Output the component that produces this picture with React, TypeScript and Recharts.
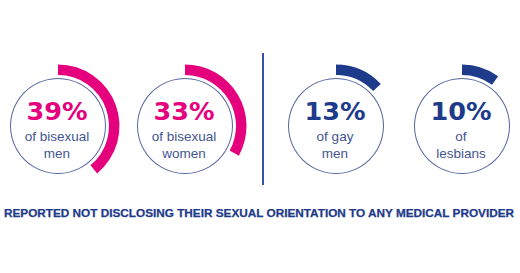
import { PieChart, Pie, Cell } from 'recharts';

const groups = ['of bisexual|men', 'of bisexual|women', 'of gay|men', 'of|lesbians'];
const percents = [39, 33, 13, 10];
const colors = ['#E5007D', '#E5007D', '#1E3A8A', '#1E3A8A'];
const centersX = [58, 185, 336, 462];
const footnote = 'REPORTED NOT DISCLOSING THEIR SEXUAL ORIENTATION TO ANY MEDICAL PROVIDER';

const CY = 126;

export default function App() {
  return (
    <div style={{ position: 'absolute', left: 0, top: 0, width: 520, height: 273, background: '#fff' }}>
      <PieChart width={520} height={273} margin={{ top: 0, right: 0, bottom: 0, left: 0 }}>
        {percents.map((p, i) => (
          <Pie
            key={'ring' + i}
            data={[{ value: 1 }]}
            dataKey="value"
            cx={centersX[i]}
            cy={CY}
            innerRadius={47}
            outerRadius={48}
            startAngle={90}
            endAngle={-270}
            stroke="none"
            fill="#55649F"
            isAnimationActive={false}
          />
        ))}
        {percents.map((p, i) => (
          <Pie
            key={'arc' + i}
            data={[{ value: p }, { value: 100 - p }]}
            dataKey="value"
            cx={centersX[i]}
            cy={CY}
            innerRadius={51}
            outerRadius={61.5}
            startAngle={90}
            endAngle={-270}
            stroke="none"
            isAnimationActive={false}
          >
            <Cell fill={colors[i]} />
            <Cell fill="none" />
          </Pie>
        ))}
        {percents.map((p, i) => {
          const [l1, l2] = groups[i].split('|');
          return (
            <g key={'txt' + i} textAnchor="middle">
              <text
                x={centersX[i] - 1}
                y={120}
                fill={colors[i]}
                fontFamily="DejaVu Sans"
                fontWeight="bold"
                fontSize={25.5}
              >
                {p}%
              </text>
              <text x={centersX[i] - 1} y={141} fill="#44558F" fontFamily="Liberation Sans" fontSize={13.5}>
                {l1}
              </text>
              <text x={centersX[i] - 1} y={158} fill="#44558F" fontFamily="Liberation Sans" fontSize={13.5}>
                {l2}
              </text>
            </g>
          );
        })}
        <line x1={263} y1={53} x2={263} y2={185} stroke="#3551AE" strokeWidth={2} />
        <text
          x={4}
          y={216.5}
          fill="#1E3A8A"
          fontFamily="Liberation Sans"
          fontWeight="bold"
          fontSize={11}
          textLength={510}
          lengthAdjust="spacingAndGlyphs"
          stroke="#1E3A8A"
          strokeWidth={0.25}
        >
          {footnote}
        </text>
      </PieChart>
    </div>
  );
}
